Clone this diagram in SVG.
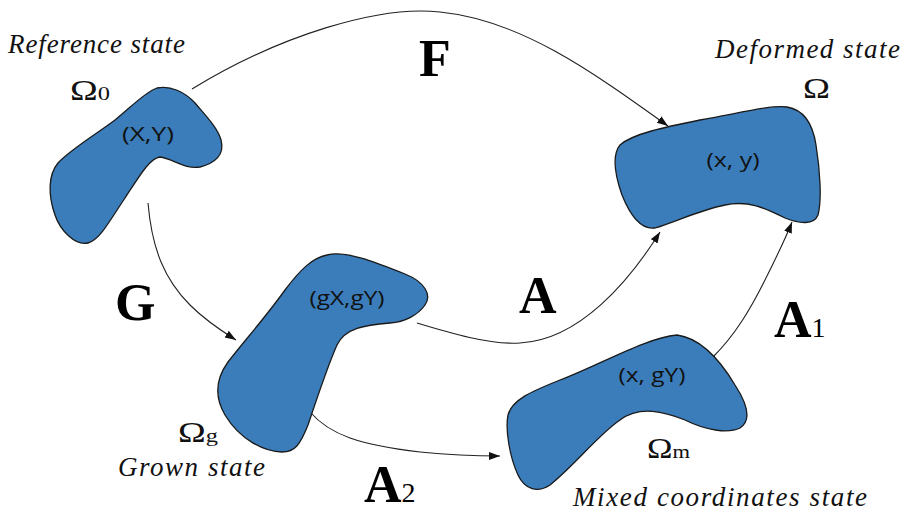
<svg xmlns="http://www.w3.org/2000/svg" width="903" height="512" viewBox="0 0 903 512">
<style>
.shape{fill:#3b7dba;stroke:#1a1a1a;stroke-width:1.3}
.coord{font-family:"Open Sans","Liberation Sans",sans-serif;font-size:20px;fill:#111;text-anchor:middle}
.state{font-family:"Liberation Serif",serif;font-style:italic;font-size:27px;fill:#111}
.omega{font-family:"Liberation Serif",serif;font-size:29px;fill:#111}
.sub{font-size:19px}
.lbl{font-family:"Liberation Serif",serif;font-weight:bold;font-size:52px;fill:#000}
.lsub{font-weight:normal;font-size:28px}
.conn{fill:none;stroke:#222;stroke-width:1.1;marker-end:url(#ah)}
</style>
<defs>
<marker id="ah" markerUnits="userSpaceOnUse" markerWidth="12" markerHeight="9" refX="11" refY="4" orient="auto">
<path d="M0,0 L11,4 L0,8 z" fill="#111"/>
</marker>
</defs>
<rect width="903" height="512" fill="#fff"/>
<g id="connectors">
<path class="conn" d="M192,89 C280,35 380,5 440,12 C520,20 590,70 668,126"/>
<path class="conn" d="M148,203 C152,250 165,280 190,305 C205,320 220,330 236,340"/>
<path class="conn" d="M417,323 C450,333 490,345 520,343 C580,340 630,280 660,232"/>
<path class="conn" d="M310,412 C330,435 360,445 420,452 C450,455 480,456 500,456"/>
<path class="conn" d="M713,357 C735,335 750,310 765,280 C775,260 785,240 792,222"/>
</g>
<g id="reference">
<path class="shape" d="M157,88 C170,85 185,92 195,103 C205,115 218,128 221,140 C225,155 215,163 200,167 C185,170 172,158 160,157 C150,158 140,175 125,198 C110,220 100,240 88,243 C75,246 60,230 55,215 C48,195 48,175 58,163 C70,150 95,135 115,120 C130,108 145,92 157,88 Z"/>
<text class="coord" x="148" y="141" textLength="52" lengthAdjust="spacingAndGlyphs">(X,Y)</text>
<text class="state" x="8" y="53" textLength="177">Reference state</text>
<text class="omega" x="70" y="100" textLength="40" lengthAdjust="spacingAndGlyphs">Ω<tspan class="sub">0</tspan></text>
</g>
<g id="deformed">
<path class="shape" d="M787,107 C805,110 813,125 816,145 C820,170 822,200 818,215 C814,225 800,224 785,218 C765,208 748,200 725,205 C700,210 675,222 655,228 C640,230 630,215 622,195 C615,175 612,155 620,145 C632,134 665,127 700,120 C740,113 770,105 787,107 Z"/>
<text class="coord" x="733" y="167" textLength="53" lengthAdjust="spacingAndGlyphs">(x, y)</text>
<text class="state" x="715" y="58" textLength="185">Deformed state</text>
<text class="omega" x="803" y="98" textLength="27" lengthAdjust="spacingAndGlyphs">Ω</text>
</g>
<g id="grown">
<path class="shape" d="M327,255 C345,250 375,262 405,274 C425,282 432,295 425,305 C418,315 405,322 390,323 C365,325 345,328 337,345 C328,365 318,395 308,425 C300,445 295,452 282,452 C265,452 240,440 225,415 C215,398 215,380 228,362 C245,340 265,318 285,290 C300,270 312,258 327,255 Z"/>
<text class="coord" x="347" y="305" textLength="75" lengthAdjust="spacingAndGlyphs">(gX,gY)</text>
<text class="state" x="118" y="476" textLength="147">Grown state</text>
<text class="omega" x="178" y="442" textLength="40" lengthAdjust="spacingAndGlyphs">Ω<tspan class="sub">g</tspan></text>
</g>
<g id="mixed">
<path class="shape" d="M677,335 C700,338 720,360 735,385 C748,405 752,420 740,428 C728,434 705,430 685,420 C665,412 640,405 620,420 C598,435 575,465 550,485 C538,493 525,490 518,475 C510,458 505,430 508,415 C512,400 530,392 560,380 C600,365 645,338 677,335 Z"/>
<text class="coord" x="652" y="382" textLength="67" lengthAdjust="spacingAndGlyphs">(x, gY)</text>
<text class="state" x="573" y="506" textLength="294">Mixed coordinates state</text>
<text class="omega" x="647" y="458" textLength="43" lengthAdjust="spacingAndGlyphs">Ω<tspan class="sub">m</tspan></text>
</g>
<g id="labels">
<text class="lbl" x="419" y="76">F</text>
<text class="lbl" x="115" y="320">G</text>
<text class="lbl" x="519" y="313">A</text>
<text class="lbl" x="774" y="337">A<tspan class="lsub">1</tspan></text>
<text class="lbl" x="364" y="502">A<tspan class="lsub">2</tspan></text>
</g>
</svg>
